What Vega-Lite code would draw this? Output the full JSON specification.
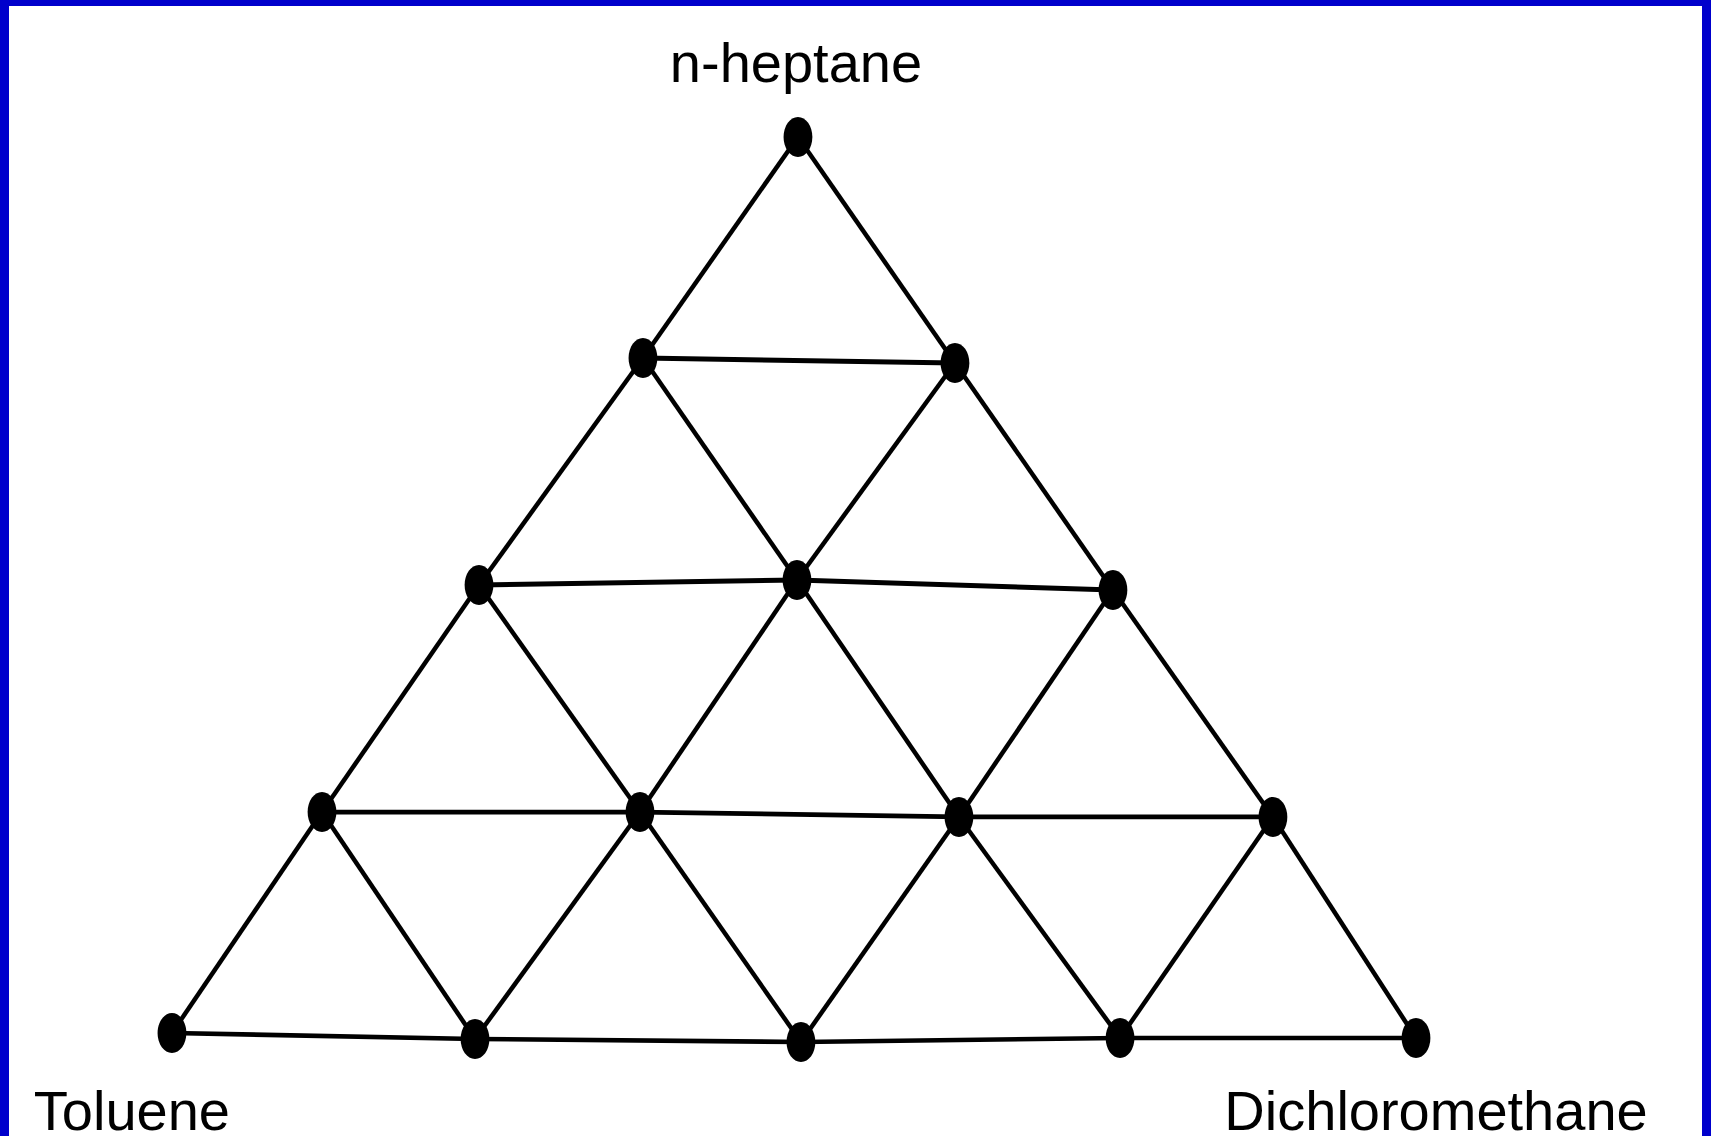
{
  "$schema": "https://vega.github.io/schema/vega-lite/v6.json",
  "width": 1693,
  "height": 1130,
  "autosize": {"type": "none"},
  "padding": {"left": 9, "top": 6, "right": 9, "bottom": 0},
  "background": "#0000cc",
  "view": {"stroke": null, "fill": "white"},
  "datasets": {
    "nodes": [
      {"id": "P00", "x": 50.32, "y": 100.0},
      {"id": "P10", "x": 37.86, "y": 75.47},
      {"id": "P11", "x": 62.94, "y": 74.92},
      {"id": "P20", "x": 24.68, "y": 50.28},
      {"id": "P21", "x": 50.24, "y": 50.83},
      {"id": "P22", "x": 75.64, "y": 49.72},
      {"id": "P30", "x": 12.06, "y": 25.08},
      {"id": "P31", "x": 37.62, "y": 25.08},
      {"id": "P32", "x": 63.26, "y": 24.53},
      {"id": "P33", "x": 88.5, "y": 24.53},
      {"id": "P40", "x": 0.0, "y": 0.55},
      {"id": "P41", "x": 24.36, "y": -0.11},
      {"id": "P42", "x": 50.56, "y": -0.44},
      {"id": "P43", "x": 76.21, "y": 0.0},
      {"id": "P44", "x": 100.0, "y": 0.0}
    ],
    "edges": [
      {"from": "P10", "to": "P11", "line": "h1"},
      {"from": "P20", "to": "P21", "line": "h2"},
      {"from": "P21", "to": "P22", "line": "h2"},
      {"from": "P30", "to": "P31", "line": "h3"},
      {"from": "P31", "to": "P32", "line": "h3"},
      {"from": "P32", "to": "P33", "line": "h3"},
      {"from": "P40", "to": "P41", "line": "h4"},
      {"from": "P41", "to": "P42", "line": "h4"},
      {"from": "P42", "to": "P43", "line": "h4"},
      {"from": "P43", "to": "P44", "line": "h4"},
      {"from": "P00", "to": "P10", "line": "d"},
      {"from": "P00", "to": "P11", "line": "d"},
      {"from": "P10", "to": "P20", "line": "d"},
      {"from": "P10", "to": "P21", "line": "d"},
      {"from": "P11", "to": "P21", "line": "d"},
      {"from": "P11", "to": "P22", "line": "d"},
      {"from": "P20", "to": "P30", "line": "d"},
      {"from": "P20", "to": "P31", "line": "d"},
      {"from": "P21", "to": "P31", "line": "d"},
      {"from": "P21", "to": "P32", "line": "d"},
      {"from": "P22", "to": "P32", "line": "d"},
      {"from": "P22", "to": "P33", "line": "d"},
      {"from": "P30", "to": "P40", "line": "d"},
      {"from": "P30", "to": "P41", "line": "d"},
      {"from": "P31", "to": "P41", "line": "d"},
      {"from": "P31", "to": "P42", "line": "d"},
      {"from": "P32", "to": "P42", "line": "d"},
      {"from": "P32", "to": "P43", "line": "d"},
      {"from": "P33", "to": "P43", "line": "d"},
      {"from": "P33", "to": "P44", "line": "d"}
    ],
    "labels": [
      {"label": "n-heptane", "x": 50.16, "y": 106.1},
      {"label": "Toluene", "x": -3.22, "y": -10.21},
      {"label": "Dichloromethane", "x": 101.61, "y": -10.21}
    ]
  },
  "layer": [
    {
      "data": {"name": "edges"},
      "transform": [
        {"lookup": "from", "from": {"data": {"name": "nodes"}, "key": "id", "fields": ["x", "y"]}, "as": ["x1", "y1"]},
        {"lookup": "to", "from": {"data": {"name": "nodes"}, "key": "id", "fields": ["x", "y"]}, "as": ["x2", "y2"]}
      ],
      "mark": {"type": "rule", "color": "black", "strokeCap": "butt"},
      "encoding": {
        "x": {"field": "x1", "type": "quantitative", "scale": {"domain": [-13.1, 122.99], "nice": false, "zero": false}, "axis": null},
        "y": {"field": "y1", "type": "quantitative", "scale": {"domain": [-10.88, 114.54], "nice": false, "zero": false}, "axis": null},
        "x2": {"field": "x2"},
        "y2": {"field": "y2"},
        "strokeWidth": {"field": "line", "type": "nominal", "scale": {"domain": ["h1", "h2", "h3", "h4", "d"], "range": [5, 4.5, 3.5, 6, 2.2]}, "legend": null}
      }
    },
    {
      "data": {"name": "nodes"},
      "mark": {"type": "point", "filled": true, "color": "black", "opacity": 1, "shape": "M-0.72,0A0.72,1,0,1,0,0.72,0A0.72,1,0,1,0,-0.72,0Z", "size": 1600},
      "encoding": {
        "x": {"field": "x", "type": "quantitative"},
        "y": {"field": "y", "type": "quantitative"}
      }
    },
    {
      "data": {"name": "labels"},
      "mark": {"type": "text", "font": "Liberation Sans", "fontSize": 56, "color": "black", "align": "center", "baseline": "alphabetic"},
      "encoding": {
        "x": {"field": "x", "type": "quantitative"},
        "y": {"field": "y", "type": "quantitative"},
        "text": {"field": "label", "type": "nominal"}
      }
    }
  ]
}
